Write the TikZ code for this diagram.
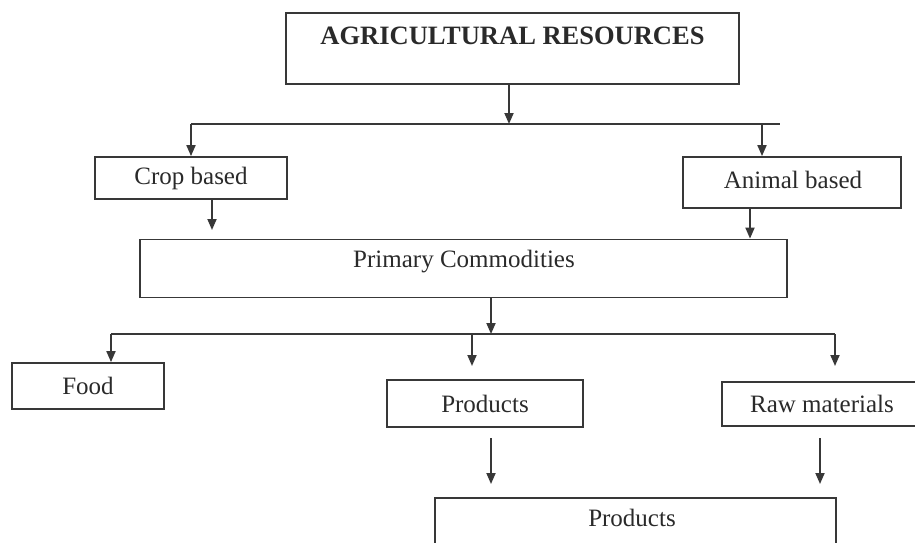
\documentclass[tikz,border=0pt]{standalone}
\usepackage{fontspec}
\setmainfont{Liberation Serif}
\usetikzlibrary{arrows.meta}
\definecolor{ink}{HTML}{383838}
\definecolor{txt}{HTML}{2A2A2A}
\tikzset{
  label font/.style={text=txt, font=\fontsize{25}{29}\selectfont},
  box/.style={draw=ink, line width=1.8pt, fill=white, inner sep=0pt, label font},
  flow/.style={draw=ink, line width=1.8pt, -{Triangle[length=11pt,width=9pt]}},
  rail/.style={draw=ink, line width=1.8pt},
}
\begin{document}
\begin{tikzpicture}[x=1pt,y=-1pt]
  \useasboundingbox[fill=white] (0,0) rectangle (915,542);
  \clip (0,0) rectangle (915,542);

  % top box with its title set near the upper edge
  \node[box, minimum width=453pt, minimum height=71pt] (res) at (512.5,48.5) {};
  \node[text=txt, font=\bfseries\fontsize{26.5}{30}\selectfont] (restitle) at (512.5,36) {AGRICULTURAL RESOURCES};

  % second level
  \node[box, minimum width=192pt, minimum height=42pt] (crop) at (191,178) {Crop based};
  \node[box, minimum width=218pt, minimum height=51pt] (animal) at (792,182.5) {};
  \node[label font] (animaltxt) at (793,180) {Animal based};

  % primary commodities
  \node[box, minimum width=647pt, minimum height=58pt] (prim) at (463.5,268.5) {};
  \node[label font] (primtxt) at (464,262) {Primary Commodities};

  % third level
  \node[box, minimum width=152pt, minimum height=46pt] (food) at (88,386) {Food};
  \node[box, minimum width=196pt, minimum height=47pt] (prod) at (485,403.5) {Products};
  \node[box, minimum width=199pt, minimum height=44pt, anchor=west] (raw) at (721,404) {};
  \node[label font] (rawtxt) at (822,404) {Raw materials};

  % final box running past the lower edge
  \node[box, minimum width=401pt, minimum height=70pt, anchor=north west] (final) at (434,497) {};
  \node[label font] (finaltxt) at (632,518) {Products};

  % branch from the top box
  \coordinate (busA) at (509,124);
  \coordinate (busAl) at (191,124);
  \coordinate (busAr) at (780,124);
  \coordinate (busAm) at (762,124);
  \draw[flow] (res.south -| busA) -- (busA);
  \draw[rail] (busAl) -- (busAr);
  \draw[flow] (busAl) -- (crop.north);
  \draw[flow] (busAm) -- (busAm |- animal.north);

  % into primary commodities
  \coordinate (cropdrop) at (212,230);
  \coordinate (animaldrop) at (750,208);
  \draw[flow] (crop.south -| cropdrop) -- (cropdrop);
  \draw[flow] (animaldrop) -- (animaldrop |- prim.north);

  % branch from primary commodities
  \coordinate (busB) at (491,334);
  \coordinate (busBl) at (111,334);
  \coordinate (busBr) at (835,334);
  \coordinate (busBm) at (472,334);
  \draw[flow] (prim.south -| busB) -- (busB);
  \draw[rail] (busBl) -- (busBr);
  \draw[flow] (busBl) -- (busBl |- food.north);
  \draw[flow] (busBm) -- (472,366);
  \draw[flow] (busBr) -- (835,366);

  % into the final box
  \coordinate (pdrop) at (491,484);
  \coordinate (rdrop) at (820,484);
  \draw[flow] (491,438) -- (pdrop);
  \draw[flow] (820,438) -- (rdrop);
\end{tikzpicture}
\end{document}
